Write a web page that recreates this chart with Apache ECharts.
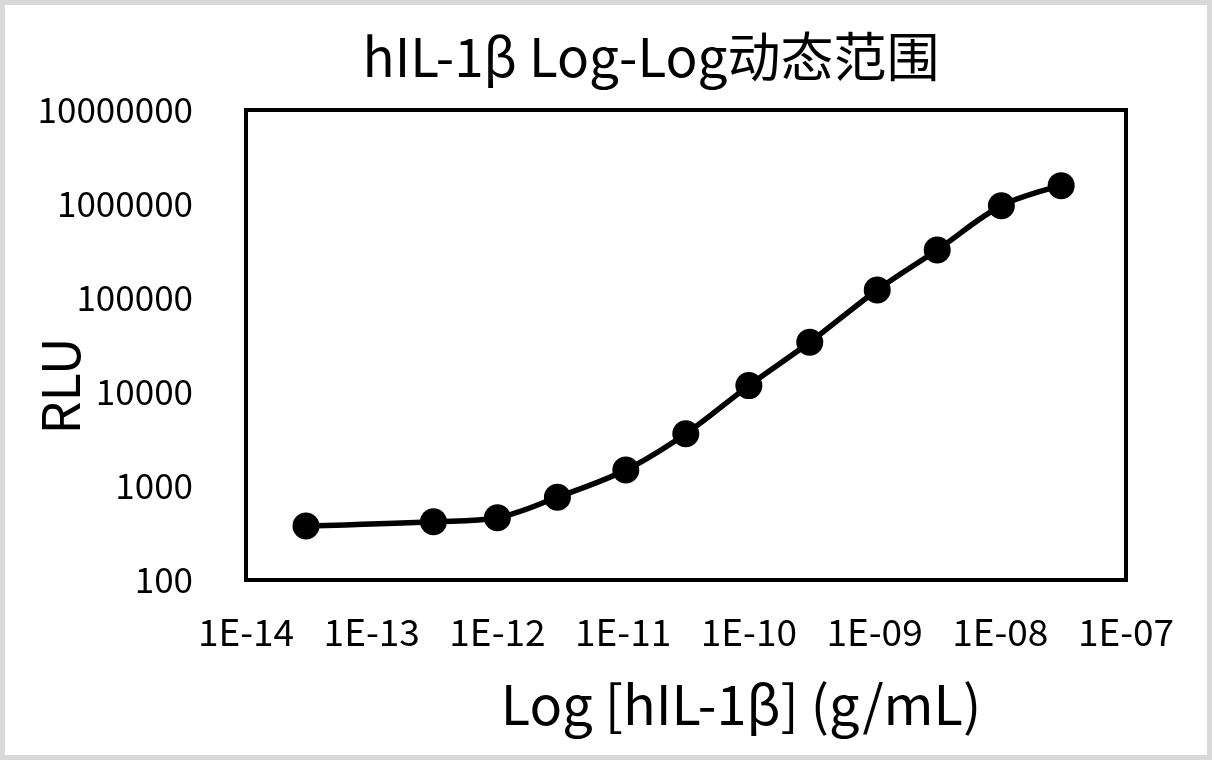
<!DOCTYPE html>
<html>
<head>
<meta charset="utf-8">
<script src="https://cdn.jsdelivr.net/npm/echarts@6/dist/echarts.min.js"></script>
<style>
html,body{margin:0;padding:0;background:#fff;}
#c{width:1212px;height:760px;}
</style>
</head>
<body>
<div id="c"></div>
<script>
// Data
const concentrations = [3.0e-14, 3.1e-13, 1.0e-12, 3.0e-12, 1.05e-11, 3.15e-11, 1.0e-10, 3.05e-10, 1.05e-9, 3.15e-9, 1.02e-8, 3.05e-8];
const rlu = [375, 417, 460, 760, 1480, 3600, 11700, 33800, 121600, 324000, 959000, 1567000];
const xTickLabels = ['1E-14', '1E-13', '1E-12', '1E-11', '1E-10', '1E-09', '1E-08', '1E-07'];
const yTickLabels = ['100', '1000', '10000', '100000', '1000000', '10000000'];
const titleText = 'hIL-1β Log-Log动态范围';
const xTitle = 'Log [hIL-1β] (g/mL)';
const yTitle = 'RLU';

const FONT = '"Noto Sans CJK SC", "Noto Sans", sans-serif';
const chart = echarts.init(document.getElementById('c'), null, {renderer: 'canvas'});

const points = concentrations.map((c, i) => [c, rlu[i]]);

chart.setOption({
  backgroundColor: '#ffffff',
  animation: false,
  grid: {
    left: 246, right: 86, top: 110, bottom: 180,
    show: true, borderColor: '#000', borderWidth: 4, backgroundColor: 'transparent'
  },
  xAxis: {
    type: 'log', logBase: 10, min: 1e-14, max: 1e-7,
    axisLine: {show: false}, axisTick: {show: false}, splitLine: {show: false},
    axisLabel: {
      fontFamily: FONT, fontSize: 37, color: '#000', margin: 33,
      formatter: function (v) {
        const e = Math.round(Math.log10(v));
        return xTickLabels[e + 14];
      }
    }
  },
  yAxis: {
    type: 'log', logBase: 10, min: 100, max: 1e7,
    axisLine: {show: false}, axisTick: {show: false}, splitLine: {show: false},
    axisLabel: {
      fontFamily: FONT, fontSize: 35, color: '#000', margin: 53,
      formatter: function (v) {
        const e = Math.round(Math.log10(v));
        return yTickLabels[e - 2];
      }
    }
  },
  graphic: [
    {type: 'rect', z: -10, shape: {x: 2.5, y: 2.5, width: 1207, height: 755},
     style: {fill: 'none', stroke: '#d9d9d9', lineWidth: 5}},
    {type: 'text', x: 651, y: 57, style: {text: titleText, fontFamily: FONT, fontSize: 53, fill: '#000', textAlign: 'center', textVerticalAlign: 'middle'}},
    {type: 'text', x: 741, y: 704, style: {text: xTitle, fontFamily: FONT, fontSize: 54, fill: '#000', textAlign: 'center', textVerticalAlign: 'middle'}},
    {type: 'text', x: 60, y: 386, rotation: Math.PI / 2, style: {text: yTitle, fontFamily: FONT, fontSize: 52, fill: '#000', textAlign: 'center', textVerticalAlign: 'middle'}}
  ],
  series: [{
    type: 'line',
    data: points,
    smooth: 0.35,
    symbol: 'circle',
    symbolSize: 27,
    lineStyle: {color: '#000', width: 5.5},
    itemStyle: {color: '#000'},
    emphasis: {disabled: true}
  }]
});
</script>
</body>
</html>
